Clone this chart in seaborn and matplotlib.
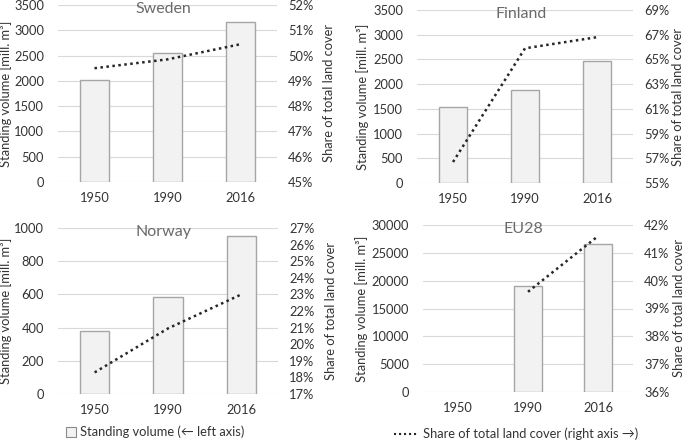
import numpy as np
import matplotlib
matplotlib.use('Agg')
import matplotlib.pyplot as plt
import seaborn as sns
from matplotlib.patches import Patch
from matplotlib.lines import Line2D
from matplotlib.ticker import FuncFormatter

years = ['1950', '1990', '2016']

sweden_vol = [2025, 2555, 3165]
sweden_share = [49.5, 49.85, 50.45]

finland_vol = [1535, 1885, 2475]
finland_share = [56.7, 65.9, 66.8]

norway_vol = [382, 582, 954]
norway_share = [18.3, 20.95, 23.0]

eu28_vol = [np.nan, 19050, 26500]
eu28_share = [np.nan, 39.6, 41.6]

sns.set_theme(style="white")
plt.rcParams['font.family'] = ['Lato', 'DejaVu Sans']

TXT = '#333333'
FS = 9.3
W, H = 685, 445
fig = plt.figure(figsize=(W / 100, H / 100), dpi=100)


def box(left, top, right, bottom):
    return [left / W, 1 - bottom / H, (right - left) / W, (bottom - top) / H]


# name, volumes, shares, left ticks, right ticks, axes box in pixels, ylabel x centres
panels = [
    ('Sweden', sweden_vol, sweden_share, np.arange(0, 3501, 500), np.arange(45, 53, 1), (58, 5, 277, 182), (12, 323)),
    ('Finland', finland_vol, finland_share, np.arange(0, 3501, 500), np.arange(55, 70, 2), (417, 10, 633, 183), (369, 672)),
    ('Norway', norway_vol, norway_share, np.arange(0, 1001, 200), np.arange(17, 28, 1), (58, 228, 278, 394), (12, 325)),
    ('EU28', eu28_vol, eu28_share, np.arange(0, 30001, 5000), np.arange(36, 43, 1), (423, 225, 633, 392), (368, 673)),
]

for name, vol, share, lticks, rticks, pos, labx in panels:
    ax = fig.add_axes(box(*pos))
    sns.barplot(x=years, y=vol, order=years, ax=ax, color='#f2f2f2',
                edgecolor='#a6a6a6', linewidth=1.0, width=0.4, errorbar=None,
                saturation=1)
    ax.set_ylim(lticks[0], lticks[-1])
    ax.set_yticks(lticks)
    ax.yaxis.grid(True, color='#d9d9d9', linewidth=0.8)
    ax.set_axisbelow(True)
    ax.set_ylabel('Standing volume [mill. m³]', fontsize=FS, color=TXT)
    ax.set_xlabel('')
    ax.tick_params(axis='x', length=0, pad=7, labelsize=FS, labelcolor=TXT)
    ax.tick_params(axis='y', length=0, pad=10, labelsize=FS, labelcolor=TXT)
    for s in ax.spines.values():
        s.set_visible(False)

    ax2 = ax.twinx()
    sns.lineplot(x=np.arange(len(years)), y=share, ax=ax2, color='#262626',
                 linewidth=1.8, linestyle=(0, (1, 1.4)))
    ax2.set_ylim(rticks[0], rticks[-1])
    ax2.set_yticks(rticks)
    ax2.yaxis.set_major_formatter(FuncFormatter(lambda v, _: f'{v:.0f}%'))
    ax2.set_ylabel('Share of total land cover', fontsize=FS, color=TXT)
    ax2.tick_params(axis='y', length=0, pad=8, labelsize=FS, labelcolor=TXT)
    for s in ax2.spines.values():
        s.set_visible(False)
    ax.set_xlim(-0.5, 2.5)

    w = pos[2] - pos[0]
    ax.yaxis.set_label_coords((labx[0] - pos[0]) / w, 0.5)
    ax2.yaxis.set_label_coords((labx[1] - pos[0]) / w, 0.5)

    ax.text(0.48, 0.975, name, transform=ax.transAxes, ha='center', va='center',
            fontsize=11.5, color='#6a6a6a')

fig.legend(handles=[Patch(facecolor='#f2f2f2', edgecolor='#8a8a8a', linewidth=0.8)],
           labels=['Standing volume (\u2190 left axis)'], loc='center',
           bbox_to_anchor=(155 / W, 1 - 432 / H), frameon=False, fontsize=FS,
           handlelength=0.8, handleheight=0.8, handletextpad=0.3, labelcolor=TXT)
fig.legend(handles=[Line2D([0], [0], color='#262626', linewidth=1.5, linestyle=(0, (1, 1.4)))],
           labels=['Share of total land cover (right axis \u2192)'], loc='center',
           bbox_to_anchor=(516 / W, 1 - 434 / H), frameon=False, fontsize=FS,
           handlelength=1.8, handletextpad=0.4, labelcolor=TXT)

fig.savefig('out.png', dpi=100)
